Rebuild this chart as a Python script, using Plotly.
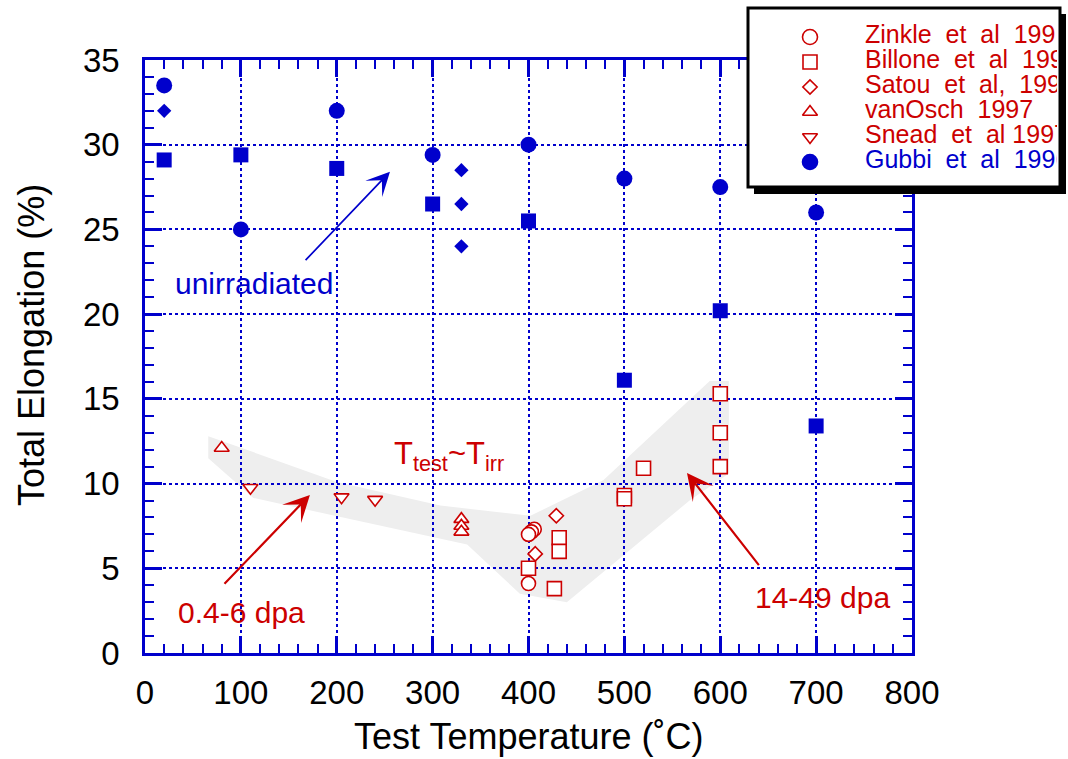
import plotly.graph_objects as go

W, H = 1068, 759
BLUE = "#0000cc"
RED = "#cc0000"
FONT = "Liberation Sans, Arial, Helvetica, sans-serif"

# ---- unirradiated data (filled blue symbols) ----
gubbi_T = [20, 100, 200, 300, 400, 500, 600, 700]
gubbi_el = [33.5, 25.0, 32.0, 29.4, 30.0, 28.0, 27.5, 26.0]
unirr_sq_T = [20, 100, 200, 300, 400, 500, 600, 700]
unirr_sq_el = [29.1, 29.4, 28.6, 26.5, 25.5, 16.1, 20.2, 13.4]
unirr_dia_T = [20, 330, 330, 330]
unirr_dia_el = [32.0, 28.5, 26.5, 24.0]

# ---- irradiated, T_test ~ T_irr (open red symbols) ----
zinkle_T = [406, 403, 400, 400]
zinkle_el = [7.3, 7.15, 7.0, 4.1]
billone_T = [400, 432, 432, 427, 500, 500, 520, 600, 600, 600]
billone_el = [5.0, 6.8, 6.0, 3.8, 9.3, 9.1, 10.9, 15.3, 13.0, 11.0]
satou_T = [429, 407]
satou_el = [8.1, 5.85]
vanosch_T = [80, 330, 330, 330]
vanosch_el = [12.1, 7.9, 7.5, 7.15]
snead_T = [110, 205, 240]
snead_el = [9.75, 9.2, 9.05]

# shaded trend band through the irradiated data
band_T = [66, 200, 308, 402, 478, 589, 609, 609, 568, 440, 391, 336, 113, 66]
band_el = [12.8, 10.1, 8.7, 8.1, 10.2, 16.05, 16.05, 10.6, 9.0, 3.0, 3.5, 6.4, 9.15, 11.5]

# legend content
legend_labels = ["Zinkle  et  al  199", "Billone  et  al  199", "Satou  et  al,  199",
                 "vanOsch  1997", "Snead  et  al 1997", "Gubbi  et  al  1996"]
legend_symbols = ["circle-open", "square-open", "diamond-open",
                  "triangle-up-open", "triangle-down-open", "circle"]
legend_sizes = [15, 14, 11, 13, 13, 15]
legend_colors = [RED, RED, RED, RED, RED, BLUE]

fig = go.Figure()


def open_trace(x, y, symbol, size):
    return go.Scatter(
        x=x, y=y, mode="markers", showlegend=False,
        marker=dict(symbol=symbol, size=size, color="white", opacity=1,
                    line=dict(color=RED, width=1.6)))


def filled_trace(x, y, symbol, size):
    return go.Scatter(
        x=x, y=y, mode="markers", showlegend=False,
        marker=dict(symbol=symbol, size=size, color=BLUE, opacity=1,
                    line=dict(width=0)))


fig.add_trace(filled_trace(unirr_sq_T, unirr_sq_el, "square", 15))
fig.add_trace(filled_trace(unirr_dia_T, unirr_dia_el, "diamond", 11))
fig.add_trace(filled_trace(gubbi_T, gubbi_el, "circle", 16))

fig.add_trace(open_trace(vanosch_T, vanosch_el, "triangle-up", 13))
fig.add_trace(open_trace(snead_T, snead_el, "triangle-down", 13))
fig.add_trace(open_trace(billone_T, billone_el, "square", 14))
fig.add_trace(open_trace(satou_T, satou_el, "diamond", 11))
fig.add_trace(open_trace(zinkle_T, zinkle_el, "circle", 14))

# band drawn under the grid
band_path = "M " + " L ".join(f"{t},{e}" for t, e in zip(band_T, band_el)) + " Z"
shapes = [dict(type="path", path=band_path, xref="x", yref="y", layer="below",
               fillcolor="#eeeeee", line=dict(width=0))]

# ---- legend box in its own helper subplot ----
rows = list(range(len(legend_labels)))
row_y = [29 + 25 * r for r in rows]
fig.add_trace(go.Scatter(
    x=[62] * len(rows), y=row_y, mode="markers", showlegend=False,
    xaxis="x2", yaxis="y2",
    marker=dict(symbol=legend_symbols, size=legend_sizes, color=legend_colors,
                opacity=1, line=dict(color=legend_colors, width=1.6))))
fig.add_trace(go.Scatter(
    x=[0] * len(rows), y=row_y, mode="text", showlegend=False,
    xaxis="x3", yaxis="y3", text=legend_labels, textposition="middle right",
    cliponaxis=True,
    textfont=dict(family=FONT, size=25, color=legend_colors)))

shapes += [
    dict(type="rect", xref="x2", yref="y2", layer="below", x0=6, x1=318, y0=6, y1=186,
         fillcolor="black", line=dict(width=0)),
    dict(type="rect", xref="x2", yref="y2", layer="below", x0=0, x1=312, y0=0, y1=179,
         fillcolor="white", line=dict(color="black", width=3)),
]

# ---- text and arrows ----
annotations = [
    dict(x=114, y=21.8, text="unirradiated", showarrow=False,
         font=dict(family=FONT, size=30, color=BLUE)),
    dict(x=101, y=2.4, text="0.4-6 dpa", showarrow=False,
         font=dict(family=FONT, size=30, color=RED)),
    dict(x=707, y=3.3, text="14-49 dpa", showarrow=False,
         font=dict(family=FONT, size=30, color=RED)),
    dict(x=317, y=11.6, text="T<sub>test</sub>~T<sub>irr</sub>", showarrow=False,
         font=dict(family=FONT, size=31, color=RED)),
    dict(x=255.5, y=28.4, ax=166, ay=23.1, axref="x", ayref="y", text="",
         showarrow=True, arrowhead=3, arrowsize=2.3, arrowwidth=1.7,
         arrowcolor=BLUE, standoff=0),
    dict(x=172, y=9.33, ax=81.4, ay=4.0, axref="x", ayref="y", text="",
         showarrow=True, arrowhead=3, arrowsize=2.0, arrowwidth=2.2,
         arrowcolor=RED, standoff=0),
    dict(x=565.3, y=10.62, ax=641.5, ay=5.1, axref="x", ayref="y", text="",
         showarrow=True, arrowhead=3, arrowsize=2.0, arrowwidth=2.2,
         arrowcolor=RED, standoff=0),
    # axis titles
    dict(xref="paper", yref="paper", x=528.5 / W, y=1 - 736 / H,
         xanchor="center", yanchor="middle",
         text="Test Temperature (˚C)", showarrow=False,
         font=dict(family=FONT, size=36, color="black")),
    dict(xref="paper", yref="paper", x=31 / W, y=1 - 345 / H, textangle=-90,
         xanchor="center", yanchor="middle",
         text="Total Elongation (%)", showarrow=False,
         font=dict(family=FONT, size=36, color="black")),
]

axis_common = dict(
    ticks="inside", ticklen=17, tickwidth=2.5, tickcolor=BLUE,
    showline=True, linecolor=BLUE, linewidth=2.5, mirror="ticks",
    showgrid=True, gridcolor=BLUE, griddash="dot", gridwidth=1.5,
    zeroline=False, automargin=False,
    tickfont=dict(family=FONT, size=33, color="black"),
)

hidden = dict(visible=False, fixedrange=True, showgrid=False, zeroline=False,
              automargin=False)

fig.update_layout(
    width=W, height=H,
    margin=dict(l=0, r=0, t=0, b=0, autoexpand=False),
    paper_bgcolor="white", plot_bgcolor="rgba(0,0,0,0)",
    xaxis=dict(
        axis_common, domain=[145 / W, 912 / W], range=[0, 800],
        tick0=0, dtick=100, ticklabelstandoff=9,
        minor=dict(dtick=20, ticks="inside", ticklen=9, tickwidth=2,
                   tickcolor=BLUE, showgrid=False),
    ),
    yaxis=dict(
        axis_common, domain=[1 - 653 / H, 1 - 60 / H], range=[0, 35],
        tick0=0, dtick=5, ticklabelstandoff=16,
        minor=dict(dtick=1, ticks="inside", ticklen=9, tickwidth=2,
                   tickcolor=BLUE, showgrid=False),
    ),
    xaxis2=dict(hidden, domain=[744 / W, 1.0], range=[-4, 320], anchor="y2"),
    yaxis2=dict(hidden, domain=[1 - 198 / H, 1 - 4 / H], range=[190, -4], anchor="x2"),
    xaxis3=dict(hidden, domain=[865 / W, 1057 / W], range=[0, 1], anchor="y3"),
    yaxis3=dict(hidden, domain=[1 - 198 / H, 1 - 4 / H], range=[190, -4], anchor="x3"),
    shapes=shapes,
    annotations=annotations,
    showlegend=False,
)

fig.write_html("out.html")
